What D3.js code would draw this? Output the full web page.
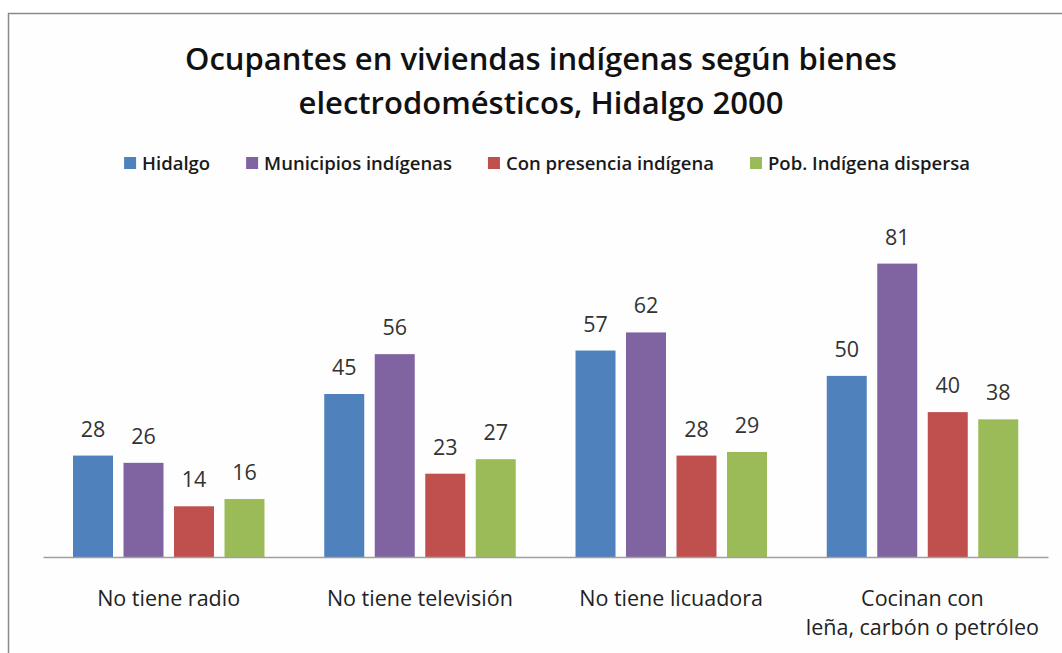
<!DOCTYPE html>
<html>
<head>
<meta charset="utf-8">
<script src="https://cdn.jsdelivr.net/npm/d3@7"></script>
<style>
  html, body { margin: 0; padding: 0; background: #fff; }
  svg { display: block; }
  text { font-family: "Open Sans", "Noto Sans", sans-serif; }
</style>
</head>
<body>
<svg id="chart" width="1062" height="653"></svg>
<script>
const titleLines = ["Ocupantes en viviendas indígenas según bienes", "electrodomésticos, Hidalgo 2000"];
const categories = ["No tiene radio", "No tiene televisión", "No tiene licuadora", "Cocinan con\nleña, carbón o petróleo"];
const seriesNames = ["Hidalgo", "Municipios indígenas", "Con presencia indígena", "Pob. Indígena dispersa"];
const hidalgo = [28, 45, 57, 50];
const municipiosIndigenas = [26, 56, 62, 81];
const conPresencia = [14, 23, 28, 40];
const pobDispersa = [16, 27, 29, 38];
const colors = ["#4F81BD", "#8064A2", "#C0504D", "#9BBB59"];
const seriesValues = [hidalgo, municipiosIndigenas, conPresencia, pobDispersa];

const svg = d3.select("#chart");
const W = 1062, H = 653;
svg.append("rect").attr("x", 0).attr("y", 0).attr("width", W).attr("height", H).attr("fill", "#fff");
// chart frame (cropped on right and bottom)
svg.append("rect").attr("x", 8.5).attr("y", 13.5).attr("width", 1100).attr("height", 700)
  .attr("fill", "#fefefe").attr("stroke", "#8a8a8a").attr("stroke-width", 1.5);

// title
svg.append("g").selectAll("text").data(titleLines).join("text")
  .attr("x", 541).attr("y", (d, i) => 70 + i * 44)
  .attr("text-anchor", "middle").attr("font-size", 31).attr("font-weight", 600)
  .attr("fill", "#111").text(d => d);

const x0 = d3.scaleBand().domain(categories).range([43, 1048]).paddingInner(0).paddingOuter(0);
const x1 = d3.scaleBand().domain(seriesNames).range([30, 221.5]).paddingInner(0.208).paddingOuter(0);
const y = d3.scaleLinear().domain([0, 90]).range([557, 231]);

const data = categories.map((c, ci) => ({
  cat: c,
  vals: seriesNames.map((s, si) => ({ s, si, v: seriesValues[si][ci] }))
}));

const groups = svg.append("g").selectAll("g").data(data).join("g")
  .attr("transform", d => `translate(${x0(d.cat)},0)`);
groups.selectAll("rect").data(d => d.vals).join("rect")
  .attr("x", d => x1(d.s)).attr("width", x1.bandwidth())
  .attr("y", d => y(d.v)).attr("height", d => y(0) - y(d.v))
  .attr("fill", d => colors[d.si]);
groups.selectAll("text.val").data(d => d.vals).join("text").attr("class", "val")
  .attr("x", d => x1(d.s) + x1.bandwidth() / 2).attr("y", d => y(d.v) - 19)
  .attr("text-anchor", "middle").attr("font-size", 21.5).attr("fill", "#333")
  .text(d => d.v);

// baseline axis
const xAxis = d3.axisBottom(x0).tickSize(0).tickFormat("");
const axG = svg.append("g").attr("transform", `translate(0,${y(0)})`).call(xAxis);
axG.select(".domain").attr("stroke", "#a0a0a0").attr("stroke-width", 1.5);

// category labels
const catG = svg.append("g").selectAll("text").data(categories).join("text")
  .attr("x", d => x0(d) + x0.bandwidth() / 2).attr("y", 606)
  .attr("text-anchor", "middle").attr("font-size", 21.5).attr("fill", "#222");
catG.selectAll("tspan").data(d => d.split("\n")).join("tspan")
  .attr("x", function() { return d3.select(this.parentNode).attr("x"); })
  .attr("dy", (d, i) => i === 0 ? 0 : 29).text(d => d);

// legend
const lg = svg.append("g");
const items = lg.selectAll("g").data(seriesNames).join("g");
items.append("rect").attr("width", 12).attr("height", 12).attr("y", 157).attr("fill", (d, i) => colors[i]);
items.append("text").attr("x", 18).attr("y", 170).attr("font-size", 18.5).attr("font-weight", 600)
  .attr("fill", "#1a1a1a").text(d => d);
const widths = [];
items.each(function() { widths.push(18 + this.querySelector("text").getComputedTextLength()); });
const gap = 36;
const total = d3.sum(widths) + gap * (widths.length - 1);
let start = 547 - total / 2;
items.attr("transform", (d, i) => { const t = `translate(${start},0)`; start += widths[i] + gap; return t; });
</script>
</body>
</html>
